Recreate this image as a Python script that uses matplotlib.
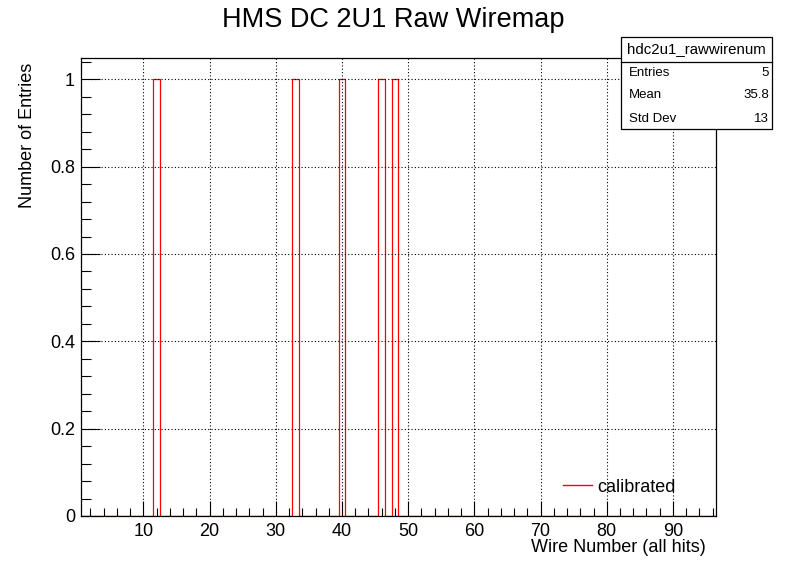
"""
HMS DC 2U1 raw wiremap, redrawn in ROOT style.
"""
import matplotlib
matplotlib.use('Agg')
import matplotlib.pyplot as plt
import numpy as np
from matplotlib.lines import Line2D
from matplotlib.ticker import MultipleLocator

OUTPUT = 'out.png'

# wire numbers that were hit (one entry each)
wire_hits = [12, 33, 40, 46, 48]
bin_edges = np.arange(0.5, 97.5, 1.0)

hist_name = 'hdc2u1_rawwirenum'
title = 'HMS DC 2U1 Raw Wiremap'
x_label = 'Wire Number (all hits)'
y_label = 'Number of Entries'
legend_label = 'calibrated'

plt.rcParams['font.family'] = ['Liberation Sans', 'DejaVu Sans']

W, H = 796, 572


def plot_wiremap(hits, output_filename):
    fig = plt.figure(figsize=(W / 100, H / 100), dpi=100)
    ax = fig.add_axes([80.5 / W, 1 - 516 / H, 635.5 / W, 458.5 / H])

    ax.hist(hits, bins=bin_edges, histtype='step', color='red', lw=0.9)
    ax.set_xlim(0.5, 96.5)
    ax.set_ylim(0, 1.05)

    ax.xaxis.set_major_locator(MultipleLocator(10))
    ax.xaxis.set_minor_locator(MultipleLocator(2))
    ax.yaxis.set_major_locator(MultipleLocator(0.2))
    ax.yaxis.set_minor_locator(MultipleLocator(0.04))
    ax.yaxis.set_major_formatter(lambda v, pos: f'{v:g}')
    ax.tick_params(which='both', direction='in', top=False, right=False,
                   labelsize=13, width=0.8, color='black')
    ax.tick_params(axis='x', which='major', length=11, pad=5)
    ax.tick_params(axis='x', which='minor', length=5.5)
    ax.tick_params(axis='y', which='major', length=14, pad=4)
    ax.tick_params(axis='y', which='minor', length=7)
    for spine in ax.spines.values():
        spine.set_linewidth(0.9)

    ax.grid(True, which='major', color='black', linestyle=(0, (1, 2)), lw=0.8)
    ax.set_axisbelow(False)

    fig.text(393 / W, 1 - 20 / H, title, ha='center', va='center', fontsize=19.5)
    fig.text(706 / W, 1 - 547 / H, x_label, ha='right', va='center', fontsize=13)
    fig.text(27.5 / W, 1 - 63 / H, y_label, ha='center', va='top', rotation=90,
             fontsize=13)

    handle = Line2D([], [], color='red', lw=1.0)
    ax.legend(handles=[handle], labels=[legend_label], frameon=False, fontsize=13,
              loc='center left', bbox_to_anchor=(563 / W, 1 - 487 / H),
              bbox_transform=fig.transFigure, borderpad=0, borderaxespad=0,
              handlelength=1.6, handletextpad=0.3)

    # stats box
    hits = np.asarray(hits, dtype=float)
    rows = [('Entries', f'{len(hits):d}'),
            ('Mean', f'{hits.mean():.1f}'),
            ('Std Dev', f'{hits.std():.3g}')]
    x0, x1 = 621 / W, 772 / W
    y_top, y_sep, y_bot = 1 - 37 / H, 1 - 62 / H, 1 - 129 / H
    box = plt.Rectangle((x0, y_bot), x1 - x0, y_top - y_bot, transform=fig.transFigure,
                        facecolor='white', edgecolor='black', lw=0.9, zorder=5)
    fig.add_artist(box)
    fig.add_artist(Line2D([x0, x1], [y_sep, y_sep], transform=fig.transFigure,
                          color='black', lw=0.9, zorder=6))
    fig.text((x0 + x1) / 2, (y_top + y_sep) / 2, hist_name, ha='center', va='center',
             fontsize=10.8, zorder=7)
    for i, (name, value) in enumerate(rows):
        y = 1 - (72.5 + 23 * i) / H
        fig.text(629 / W, y, name, ha='left', va='center', fontsize=9.5, zorder=7)
        fig.text(769 / W, y, value, ha='right', va='center', fontsize=9.5, zorder=7)

    fig.savefig(output_filename, dpi=100)


if __name__ == "__main__":
    plot_wiremap(wire_hits, OUTPUT)
    print(f"Plotted {OUTPUT}")
